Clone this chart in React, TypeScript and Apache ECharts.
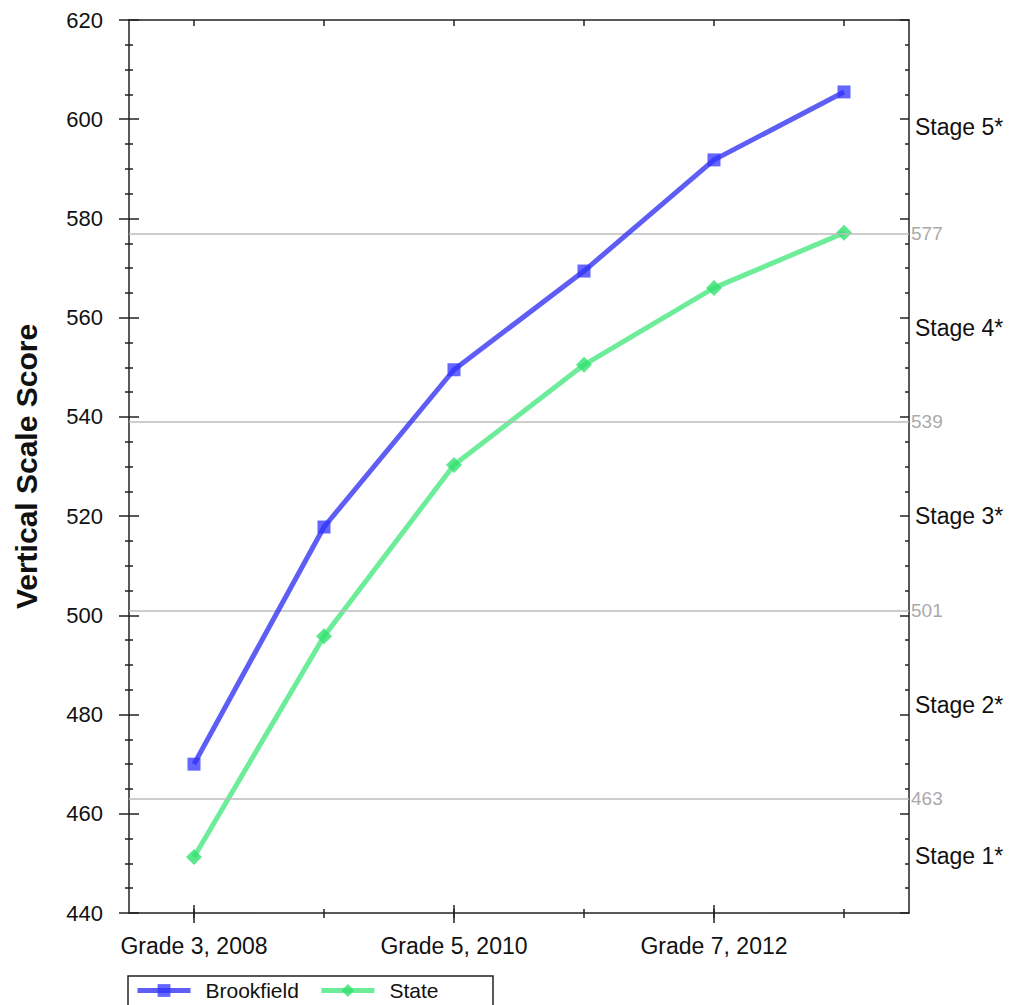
import React, { useEffect, useRef } from "react";
import * as echarts from "echarts";

const categories = [
  "Grade 3, 2008",
  "Grade 4, 2009",
  "Grade 5, 2010",
  "Grade 6, 2011",
  "Grade 7, 2012",
  "Grade 8, 2013",
];
const brookfield = [470, 517.8, 549.5, 569.4, 591.8, 605.5];
const state = [451.3, 495.8, 530.3, 550.5, 566, 577.1];
const cutScores = [463, 501, 539, 577];
const stageNames = ["Stage 1*", "Stage 2*", "Stage 3*", "Stage 4*", "Stage 5*"];
const stagePositions = [451.5, 482, 520, 558, 598.5];
const yMin = 440;
const yMax = 620;
const yStep = 20;

const FONT = "'Liberation Sans', Arial, sans-serif";

export default function App() {
  const ref = useRef<HTMLDivElement>(null);
  useEffect(() => {
    document.body.style.margin = "0";
    const chart = echarts.init(ref.current!, null, { renderer: "svg" });
    const axisLineStyle = { color: "#222", width: 1.5 };
    const baseX = {
      type: "category" as const,
      data: categories,
      boundaryGap: true,
      axisLabel: { show: false },
      splitLine: { show: false },
    };
    const baseY = {
      type: "value" as const,
      min: yMin,
      max: yMax,
      interval: yStep,
      splitLine: { show: false },
    };
    const option: any = {
      animation: false,
      textStyle: { fontFamily: FONT },
      grid: { left: 129, right: 104, top: 20, bottom: 92, containLabel: false },
      legend: {
        left: 130,
        top: 980,
        padding: [0, 5],
        itemWidth: 53,
        itemHeight: 16,
        itemGap: 20,
        lineStyle: { width: 5 },
        textStyle: { fontSize: 21, color: "#111", fontFamily: FONT, padding: [0, 0, 0, 10] },
        data: ["Brookfield", "State"],
      },
      graphic: [
        {
          type: "rect",
          shape: { x: 128, y: 976, width: 365, height: 40 },
          style: { fill: "none", stroke: "#222", lineWidth: 1.5 },
        },
      ],
      xAxis: [
        {
          ...baseX,
          position: "bottom",
          axisLine: { show: true, lineStyle: axisLineStyle },
          axisLabel: { show: true, interval: 1, fontSize: 23, color: "#111", margin: 21, fontFamily: FONT },
          axisTick: { show: true, interval: 0, alignWithLabel: true, length: 5, lineStyle: axisLineStyle },
        },
        {
          ...baseX,
          position: "bottom",
          axisLine: { show: false },
          axisTick: { show: true, inside: true, interval: 0, alignWithLabel: true, length: 4, lineStyle: axisLineStyle },
        },
        {
          ...baseX,
          position: "bottom",
          axisLine: { show: false },
          axisTick: { show: true, interval: 1, alignWithLabel: true, length: 10, lineStyle: axisLineStyle },
        },
        {
          ...baseX,
          position: "bottom",
          axisLine: { show: false },
          axisTick: { show: true, inside: true, interval: 1, alignWithLabel: true, length: 8, lineStyle: axisLineStyle },
        },
        {
          ...baseX,
          position: "top",
          axisLine: { show: true, lineStyle: axisLineStyle },
          axisTick: { show: true, inside: true, interval: 0, alignWithLabel: true, length: 6, lineStyle: axisLineStyle },
        },
      ],
      yAxis: [
        {
          ...baseY,
          position: "left",
          name: "Vertical Scale Score",
          nameLocation: "middle",
          nameRotate: 90,
          nameGap: 88,
          nameTextStyle: { fontSize: 30, fontWeight: "bold", color: "#111", fontFamily: FONT },
          axisLine: { show: true, lineStyle: axisLineStyle },
          axisLabel: { show: true, fontSize: 22, color: "#111", margin: 26, fontFamily: FONT },
          axisTick: { show: true, length: 10, lineStyle: axisLineStyle },
          minorTick: { show: true, splitNumber: 4, length: 4, lineStyle: axisLineStyle },
        },
        {
          ...baseY,
          position: "left",
          axisLine: { show: false },
          axisLabel: { show: false },
          axisTick: { show: true, inside: true, length: 10, lineStyle: axisLineStyle },
          minorTick: { show: true, splitNumber: 4, length: 4, lineStyle: axisLineStyle },
        },
        {
          ...baseY,
          position: "right",
          axisLine: { show: true, lineStyle: axisLineStyle },
          axisLabel: { show: false },
          axisTick: { show: true, inside: true, length: 9, lineStyle: axisLineStyle },
          minorTick: { show: true, splitNumber: 4, length: 4, lineStyle: axisLineStyle },
        },
      ],
      series: [
        {
          name: "Brookfield",
          type: "line",
          data: brookfield,
          xAxisIndex: 0,
          yAxisIndex: 0,
          symbol: "rect",
          symbolSize: 13,
          lineStyle: { color: "rgba(40,40,240,0.75)", width: 5 },
          itemStyle: { color: "rgba(50,50,255,0.75)" },
          z: 5,
          markLine: {
            silent: true,
            symbol: "none",
            animation: false,
            data: [
              ...cutScores.map((v) => ({
                yAxis: v,
                lineStyle: { color: "#bdbdbd", width: 1.5, type: "solid" },
                label: {
                  show: true,
                  position: "end",
                  formatter: String(v),
                  color: "#aaaaaa",
                  fontSize: 19,
                  distance: 2,
                  fontFamily: FONT,
                },
              })),
              ...stageNames.map((s, i) => ({
                yAxis: stagePositions[i],
                lineStyle: { color: "rgba(0,0,0,0)", width: 0, type: "solid" },
                label: {
                  show: true,
                  position: "end",
                  formatter: s,
                  color: "#111",
                  fontSize: 23,
                  distance: 6,
                  fontFamily: FONT,
                },
              })),
            ],
          },
        },
        {
          name: "State",
          type: "line",
          data: state,
          xAxisIndex: 0,
          yAxisIndex: 0,
          symbol: "diamond",
          symbolSize: 16,
          lineStyle: { color: "rgba(60,230,120,0.75)", width: 5 },
          itemStyle: { color: "rgba(50,225,110,0.8)" },
          z: 4,
        },
      ],
    };
    chart.setOption(option);
    return () => chart.dispose();
  }, []);
  return <div ref={ref} style={{ width: 1013, height: 1005 }} />;
}
